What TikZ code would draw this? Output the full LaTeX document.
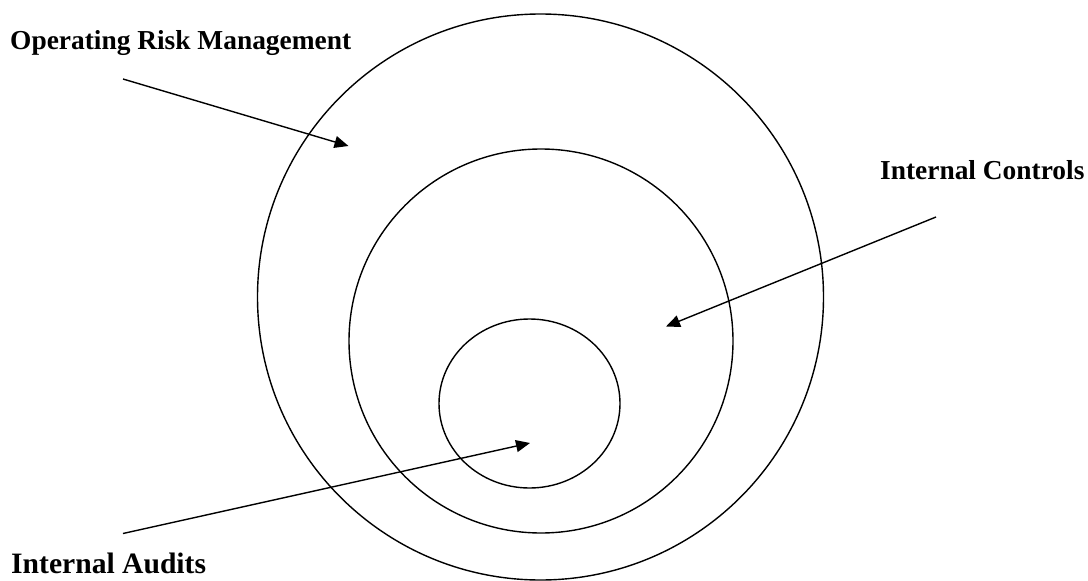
\documentclass[tikz,border=0pt]{standalone}
\usepackage{fontspec}
\setmainfont{Liberation Serif}
\usetikzlibrary{arrows.meta}
\begin{document}
\begin{tikzpicture}[x=1pt,y=-1pt,
  ring/.style={draw=black,line width=1.4pt},
  label/.style={anchor=base west,inner sep=0pt,font=\bfseries\fontsize{27.4}{30}\selectfont},
  biglabel/.style={anchor=base west,inner sep=0pt,font=\bfseries\fontsize{29.6}{32}\selectfont},
  pointer/.style={draw=black,line width=1.4pt,-{Triangle[length=14pt,width=12pt]}}]
\useasboundingbox (0,0) rectangle (1088,581);
% rings
\node[ring,circle,minimum size=566pt,inner sep=0pt] (outer) at (540.5,297) {};
\node[ring,circle,minimum size=384pt,inner sep=0pt] (middle) at (541,341) {};
\draw[ring] (529.5,403.5) ellipse [x radius=90.5pt,y radius=84.5pt];
\coordinate (innerc) at (529.5,403.5);
% labels
\node[label] (orm) at (10,49.5) {Operating Risk Management};
\node[label] (ic) at (880,179) {Internal Controls};
\node[biglabel] (ia) at (11,573) {Internal Audits};
% pointer ends
\coordinate (ormS) at (123,79);
\coordinate (ormT) at (348.5,146);
\coordinate (icS) at (936,217);
\coordinate (icT) at (666,326.5);
\coordinate (iaS) at (123,533.5);
\coordinate (iaT) at (530,443);
\draw[pointer] (ormS) -- (ormT);
\draw[pointer] (icS) -- (icT);
\draw[pointer] (iaS) -- (iaT);
\end{tikzpicture}
\end{document}
